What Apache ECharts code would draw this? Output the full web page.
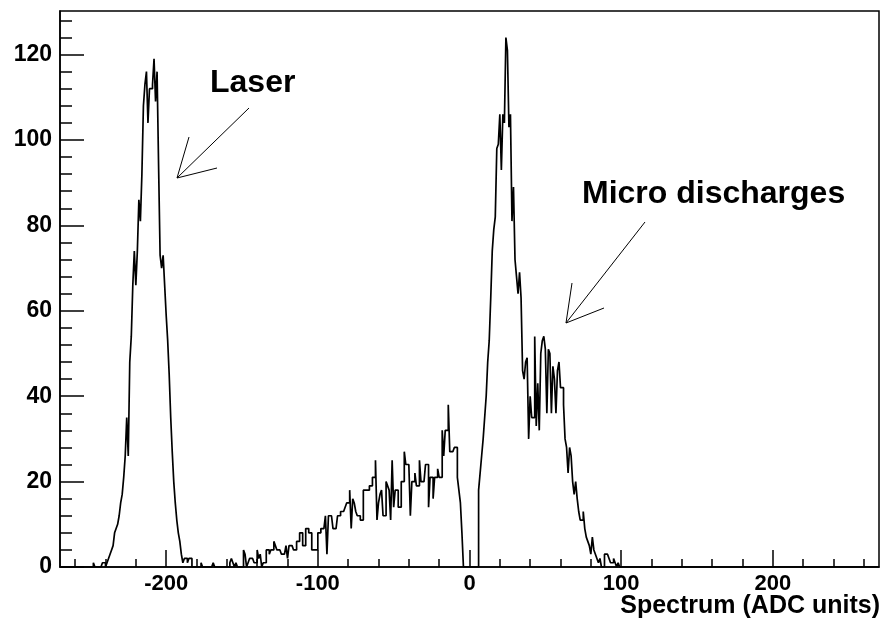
<!DOCTYPE html>
<html><head><meta charset="utf-8">
<script src="https://cdn.jsdelivr.net/npm/echarts@6/dist/echarts.min.js"></script>
<style>html,body{margin:0;padding:0;background:#fff}#c{width:883px;height:624px}</style>
</head><body><div id="c"></div>
<script>
// ---- axis ranges and tick labels ----
const xMin = -270, xMax = 270, yMin = 0, yMax = 130.2;
const xMajorTicks = [-200, -100, 0, 100, 200];
const xMinorTicks = [-260, -240, -220, -180, -160, -140, -120, -80, -60, -40, -20, 20, 40, 60, 80, 120, 140, 160, 180, 220, 240, 260];
const yMajorTicks = [0, 20, 40, 60, 80, 100, 120];
const yMinorTicks = [4, 8, 12, 16, 24, 28, 32, 36, 44, 48, 52, 56, 64, 68, 72, 76, 84, 88, 92, 96, 104, 108, 112, 116, 124, 128];

// ---- histogram contents (bin width 1 ADC unit), each block starts at its given bin edge ----
const laserStart = -248;
const laserCounts = [1, 0, 0, 0, 0, 0, 1, 1, 0, 1,
  2, 3, 4, 5, 8, 9, 10, 12, 15, 17,
  21, 26, 35, 26, 48, 54, 66, 74, 66, 74,
  86, 81, 92, 108, 113, 116, 104, 112, 112, 113,
  119, 109, 116, 94, 73, 70, 73, 66, 59, 53,
  45, 35, 27, 20, 15, 11, 8, 6, 3, 1,
  2, 2, 1, 2, 2];

const midStart = -177;
const midCounts = [1, 0, 0, 0, 0, 0, 0, 0, 1, 0,
  0, 0, 0, 0, 0, 0, 0, 0, 0, 1,
  2, 1, 0, 1, 0, 0, 0, 0, 4, 3,
  0, 1, 2, 2, 2, 1, 1, 4, 2, 3,
  0, 1, 1, 4, 4, 3, 4, 4, 6, 5,
  4,
  4, 4, 3, 3, 3, 5, 2, 5, 5, 5,
  4, 4, 6, 6, 8, 8, 5, 5, 9, 9,
  8, 8, 4, 4, 4, 4, 8, 8, 9, 9,
  9, 12, 3, 12, 12, 12, 9, 9, 9, 12,
  12, 13, 13, 13, 14, 15, 15, 18, 9, 16,
  15, 13, 12, 12, 11, 11, 18, 18, 18, 18,
  19, 19, 21, 21, 25, 11, 15, 17, 18, 12,
  12, 20, 19, 18, 11, 25, 14, 18, 18, 14,
  14, 20, 20, 27, 24, 24, 24, 12, 20, 20,
  22, 19, 19, 25, 20,
  20,
  20, 24, 24, 14, 21, 21, 16, 21, 21, 23,
  21, 21, 32, 26, 32, 32, 38, 27, 27, 27,
  28, 28, 21, 18, 15, 8];

const mainStart = 6;
const mainCounts = [18, 22, 26, 30, 35, 40, 48, 53, 63, 74,
  79, 82, 98, 99, 106, 93, 106, 104, 124, 121,
  103, 106, 81, 89, 72, 68, 64, 69, 63,
  46, 44, 48, 49, 30, 40, 35, 35, 54, 33,
  43, 32, 50, 53, 54, 51, 36, 51, 50, 36,
  47, 44, 36, 46, 48, 42, 42, 38, 30, 28,
  22, 28, 26, 20, 17, 20, 16, 13, 11, 11,
  13, 9, 7, 6, 5, 3, 7, 4, 3, 2,
  1, 2, 0, 0, 3, 3, 3, 2, 1, 1,
  2, 1, 0, 1];

// ---- build step outline data from the blocks ----
const binMap = new Map();
function addBlock(start, arr) { arr.forEach(function (v, i) { binMap.set(start + i, v); }); }
addBlock(laserStart, laserCounts);
addBlock(midStart, midCounts);
addBlock(mainStart, mainCounts);
const histData = [];
for (let x = xMin; x < xMax; x++) histData.push([x, binMap.get(x) || 0]);
histData.push([xMax, 0]);

const FONT = '"Liberation Sans", Helvetica, Arial, sans-serif';
const gridRect = { left: 60, right: 4, top: 11, bottom: 57 };

const chart = echarts.init(document.getElementById('c'), null, { renderer: 'canvas' });
chart.setOption({
  animation: false,
  backgroundColor: '#fff',
  grid: [
    Object.assign({ show: true, borderColor: '#000', borderWidth: 1.5, backgroundColor: 'transparent' }, gridRect),
    Object.assign({ show: false }, gridRect)
  ],
  xAxis: [
    {
      type: 'value', gridIndex: 0, min: xMin, max: xMax, position: 'bottom',
      axisLine: { show: true, onZero: false, lineStyle: { color: '#000', width: 1.5 } },
      axisTick: { show: true, inside: true, length: 17, customValues: xMajorTicks, lineStyle: { color: '#000', width: 1.5 } },
      axisLabel: { show: true, customValues: xMajorTicks, color: '#000', fontSize: 22, fontWeight: 'bold', fontFamily: FONT, margin: 6 },
      splitLine: { show: false }
    },
    {
      type: 'value', gridIndex: 1, min: xMin, max: xMax, position: 'bottom',
      axisLine: { show: false, onZero: false },
      axisTick: { show: true, inside: true, length: 8, customValues: xMinorTicks, lineStyle: { color: '#000', width: 1.5 } },
      axisLabel: { show: false },
      splitLine: { show: false }
    }
  ],
  yAxis: [
    {
      type: 'value', gridIndex: 0, min: yMin, max: yMax, position: 'left',
      axisLine: { show: true, onZero: false, lineStyle: { color: '#000', width: 1.5 } },
      axisTick: { show: true, inside: true, length: 24, customValues: yMajorTicks, lineStyle: { color: '#000', width: 1.5 } },
      axisLabel: { show: true, customValues: yMajorTicks, color: '#000', fontSize: 23, fontWeight: 'bold', fontFamily: FONT, margin: 8 },
      splitLine: { show: false }
    },
    {
      type: 'value', gridIndex: 1, min: yMin, max: yMax, position: 'left',
      axisLine: { show: false, onZero: false },
      axisTick: { show: true, inside: true, length: 12, customValues: yMinorTicks, lineStyle: { color: '#000', width: 1.5 } },
      axisLabel: { show: false },
      splitLine: { show: false }
    }
  ],
  series: [{
    type: 'line', xAxisIndex: 0, yAxisIndex: 0, step: 'end',
    data: histData, symbol: 'none', showSymbol: false,
    lineStyle: { color: '#000', width: 1.7 }, clip: true
  }],
  graphic: [
    { type: 'text', left: 210, top: 67, style: { text: 'Laser', fill: '#000', font: 'bold 32px ' + FONT } },
    { type: 'line', shape: { x1: 249, y1: 108, x2: 177, y2: 178 }, style: { stroke: '#000', lineWidth: 1 } },
    { type: 'line', shape: { x1: 177, y1: 178, x2: 189, y2: 137 }, style: { stroke: '#000', lineWidth: 1 } },
    { type: 'line', shape: { x1: 177, y1: 178, x2: 217, y2: 168 }, style: { stroke: '#000', lineWidth: 1 } },
    { type: 'text', left: 582, top: 178, style: { text: 'Micro discharges', fill: '#000', font: 'bold 32px ' + FONT } },
    { type: 'line', shape: { x1: 645, y1: 222, x2: 566, y2: 323 }, style: { stroke: '#000', lineWidth: 1 } },
    { type: 'line', shape: { x1: 566, y1: 323, x2: 572, y2: 283 }, style: { stroke: '#000', lineWidth: 1 } },
    { type: 'line', shape: { x1: 566, y1: 323, x2: 604, y2: 308 }, style: { stroke: '#000', lineWidth: 1 } },
    { type: 'text', right: 3, top: 594, style: { text: 'Spectrum (ADC units)', fill: '#000', font: 'bold 25px ' + FONT } }
  ]
});
</script>
</body></html>
